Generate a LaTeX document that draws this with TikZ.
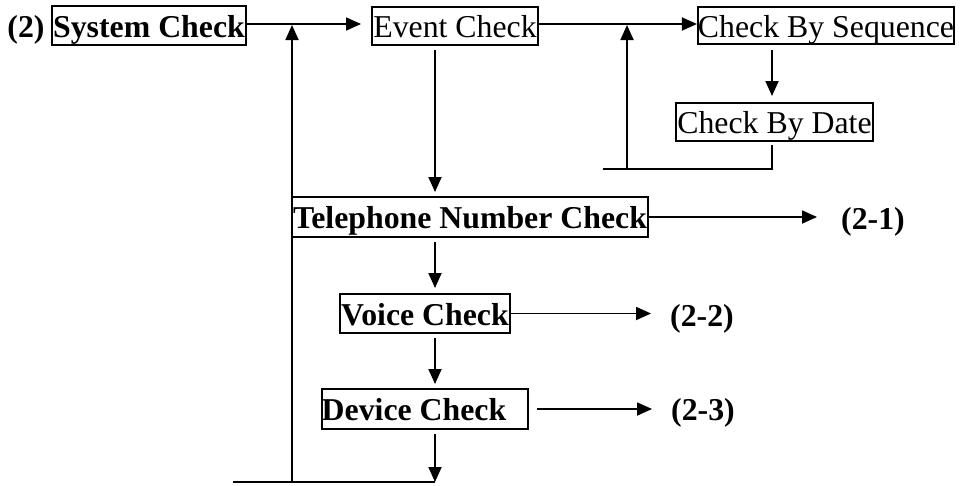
\documentclass[tikz,border=0pt]{standalone}
\usepackage{fontspec}
\setmainfont{Liberation Serif}
\usetikzlibrary{arrows.meta}
\begin{document}
\begin{tikzpicture}[x=1pt,y=-1pt,
  every node/.style={font=\fontsize{31.8}{36}\selectfont},
  bold/.style={font=\fontsize{31.8}{36}\selectfont\bfseries},
  box/.style={draw,line width=2pt,inner sep=0pt,text height=23pt,text depth=0pt},
  lbl/.style={bold,inner sep=0pt,text height=23pt,text depth=0pt},
  conn/.style={line width=1.8pt},
  arr/.style={conn,-{Triangle[length=15pt,width=13pt]}}]
\useasboundingbox (0,0) rectangle (960,485);

\node[lbl] (two) at (26,25.5) {(2)};
\node[box,bold,minimum width=194pt,minimum height=39pt] (sys) at (149,25.5) {System Check};
\node[box,minimum width=166pt,minimum height=38pt] (event) at (455,26) {Event Check};
\node[box,minimum width=254pt,minimum height=37pt] (cbs) at (826,25.5) {Check By Sequence};
\node[box,minimum width=197pt,minimum height=38pt] (cbd) at (774.5,122) {Check By Date};
\node[box,bold,minimum width=356pt,minimum height=40pt] (tel) at (470,217) {Telephone Number Check};
\node[box,bold,minimum width=170pt,minimum height=39pt] (voice) at (425,313.5) {Voice Check};
\node[box,bold,minimum width=204pt,minimum height=40pt] (device) at (425,409) {Device Check\hspace*{22pt}};
\node[lbl] (l1) at (873,218) {(2-1)};
\node[lbl] (l2) at (702,315) {(2-2)};
\node[lbl] (l3) at (703,409) {(2-3)};

\coordinate (colA) at (435,0);
\coordinate (colB) at (772,0);
\coordinate (j1) at (292,24);
\coordinate (j2) at (627,24);
\coordinate (b1) at (233,482);
\coordinate (b2) at (292,482);
\coordinate (b3) at (435,482);
\coordinate (f1) at (603,169);
\coordinate (f2) at (627,169);
\coordinate (f3) at (772,169);

\draw[arr,shorten >=10pt] (sys.east |- j1) -- (event.west |- j1);
\draw[arr,shorten >=1pt] (b2) -- (j1);
\draw[conn] (b1) -- (b3);
\draw[arr,shorten <=4pt,shorten >=4pt] (event.south -| colA) -- (tel.north -| colA);
\draw[arr,shorten <=4pt,shorten >=5pt] (tel.south -| colA) -- (voice.north -| colA);
\draw[arr,shorten <=4pt,shorten >=4pt] (voice.south -| colA) -- (device.north -| colA);
\draw[arr,shorten <=4pt] (device.south -| colA) -- (b3);
\draw[arr] (event.east |- j2) -- (cbs.west |- j2);
\draw[arr,shorten <=5pt,shorten >=6pt] (cbs.south -| colB) -- (cbd.north -| colB);
\draw[conn,shorten <=3pt] (cbd.south -| colB) -- (f3) -- (f1);
\draw[arr,shorten >=1pt] (f2) -- (j2);
\draw[arr,shorten >=24pt] (tel.east) -- (l1.west |- tel.east);
\draw[arr,shorten >=19pt] (voice.east) -- (l2.west |- voice.east);
\draw[arr,shorten <=8pt,shorten >=19pt] (device.east) -- (l3.west |- device.east);
\end{tikzpicture}
\end{document}
